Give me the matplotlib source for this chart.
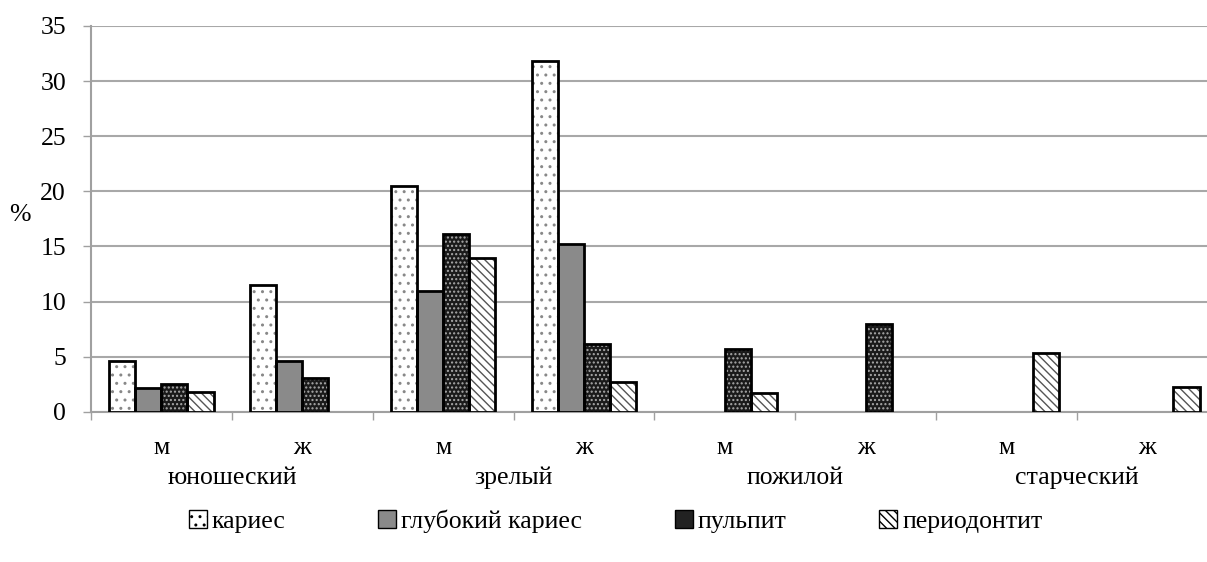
import matplotlib.pyplot as plt
import numpy as np
from matplotlib.patches import Patch
from matplotlib.transforms import blended_transform_factory

plt.rcParams['font.family'] = ['Liberation Serif', 'DejaVu Serif']

# data
sex_labels = ['м', 'ж', 'м', 'ж', 'м', 'ж', 'м', 'ж']
age_groups = ['юношеский', 'зрелый', 'пожилой', 'старческий']
series_names = ['кариес', 'глубокий кариес', 'пульпит', 'периодонтит']
caries = [4.6, 11.5, 20.5, 31.8, 0, 0, 0, 0]
deep_caries = [2.2, 4.6, 11.0, 15.2, 0, 0, 0, 0]
pulpitis = [2.5, 3.1, 16.1, 6.2, 5.7, 8.0, 0, 0]
periodontitis = [1.8, 0, 14.0, 2.7, 1.7, 0, 5.3, 2.3]

series = [caries, deep_caries, pulpitis, periodontitis]
# (face, hatch, hatch colour)
styles = [
    ('white', '..', '#888888'),
    ('#8a8a8a', '', '#8a8a8a'),
    ('#1a1a1a', '....', '#aaaaaa'),
    ('white', '\\\\\\\\', '#555555'),
]
FS = 18.5

fig = plt.figure(figsize=(12.07, 5.62), dpi=100)
ax = fig.add_axes([0.0754, 0.267, 1.009 - 0.0754, 0.954 - 0.267])

x = np.arange(len(sex_labels))
w = 0.185
for i, (vals, (fc, hatch, hc)) in enumerate(zip(series, styles)):
    pos = x + (i - 1.5) * w
    v = np.array(vals)
    m = v > 0
    ax.bar(pos[m], v[m], w, color=fc, hatch=hatch, edgecolor=hc, linewidth=0, zorder=3)
    ax.bar(pos[m], v[m], w, fill=False, edgecolor='black', linewidth=2, zorder=4)

ax.set_ylim(0, 35)
ax.set_xlim(-0.5, 7.5)
ax.set_yticks(range(0, 36, 5))
ax.yaxis.grid(True, color='#a8a8a8', linewidth=1.5, zorder=0)
ax.set_axisbelow(True)
ax.tick_params(axis='y', labelsize=FS, length=6, color='#a0a0a0', width=1, pad=12)

ax.set_xticks(x)
ax.set_xticklabels(sex_labels, fontsize=FS)
ax.tick_params(axis='x', length=0, pad=18)
ax.set_xticks(np.arange(-0.5, 8, 1), minor=True)
ax.tick_params(axis='x', which='minor', length=6, color='#a0a0a0', width=1)

for s in ['top', 'right']:
    ax.spines[s].set_visible(False)
for s in ['left', 'bottom']:
    ax.spines[s].set_color('#a0a0a0')
    ax.spines[s].set_linewidth(1.5)

trans = blended_transform_factory(ax.transData, fig.transFigure)
for j, name in enumerate(age_groups):
    ax.text(2 * j + 0.5, 1 - 478 / 562, name, transform=trans, ha='center', va='center', fontsize=FS)

fig.text(20 / 1207, 1 - 215 / 562, '%', ha='center', va='center', fontsize=FS)

handles = [Patch(facecolor=fc, hatch=h, edgecolor='black', linewidth=1) for fc, h, hc in styles]
handles[2] = Patch(facecolor='#222222', edgecolor='black', linewidth=1)
fig.legend(handles, series_names, loc='center', bbox_to_anchor=(0.51, 1 - 521 / 562),
           ncol=4, frameon=False, fontsize=FS, handlelength=0.7, handleheight=0.7,
           handletextpad=0.2, columnspacing=3.6)

fig.savefig('out.png', dpi=100)
